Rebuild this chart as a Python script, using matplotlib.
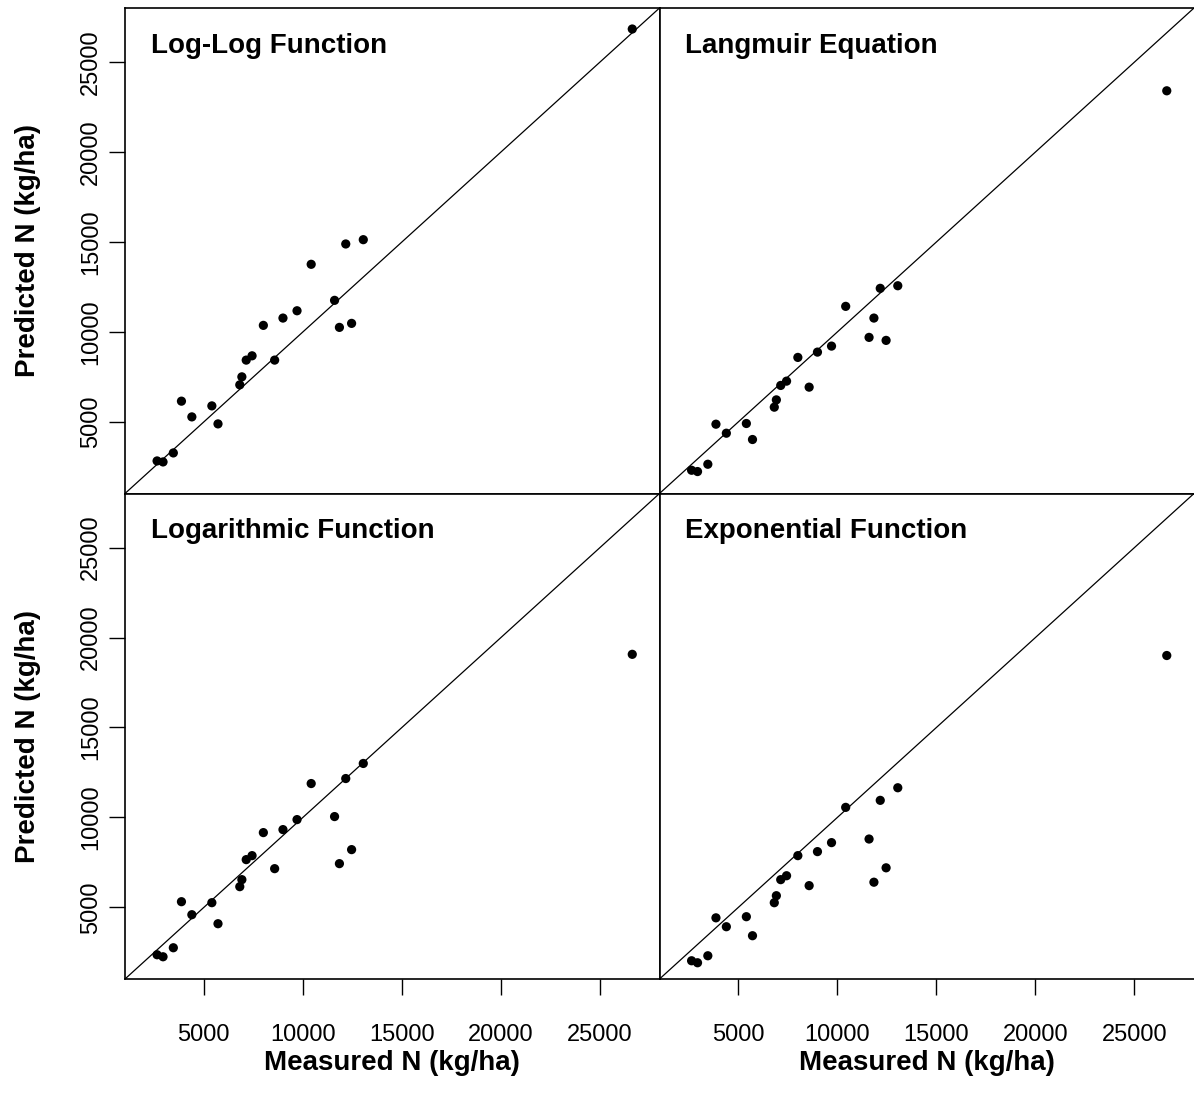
import matplotlib
matplotlib.use("Agg")
import matplotlib.pyplot as plt

plt.rcParams['font.family'] = ['Liberation Sans', 'DejaVu Sans']

# Measured soil N (kg/ha), shared by all four models
measured = [2640, 2940, 3460, 3870, 4395, 5405, 5715, 6815, 6920, 7140, 7435,
            8005, 8575, 8995, 9705, 10420, 11600, 11845, 12165, 12460, 13050, 26630]

# Predicted N (kg/ha) for each fitted model
pred_loglog = [2830, 2774, 3275, 6152, 5278, 5890, 4889, 7059, 7504, 8434, 8673,
               10365, 8434, 10771, 11177, 13759, 11756, 10253, 14889, 10476, 15128, 26837]
pred_langmuir = [2312, 2240, 2646, 4872, 4371, 4911, 4021, 5818, 6224, 7026, 7265,
                 8584, 6931, 8879, 9213, 11422, 9697, 10771, 12424, 9530, 12568, 23403]
pred_logarithmic = [2368, 2256, 2757, 5317, 4594, 5262, 4093, 6152, 6542, 7655, 7877,
                    9157, 7153, 9324, 9880, 11884, 10048, 7432, 12162, 8211, 13000, 19066]
pred_exponential = [2034, 1923, 2312, 4420, 3926, 4483, 3426, 5260, 5650, 6542, 6760,
                    7877, 6210, 8100, 8600, 10560, 8800, 6400, 10950, 7200, 11650, 19000]

panel_titles = ["Log-Log Function", "Langmuir Equation",
                "Logarithmic Function", "Exponential Function"]
panel_values = [pred_loglog, pred_langmuir, pred_logarithmic, pred_exponential]
tick_values = [5000, 10000, 15000, 20000, 25000]
axis_lim = (1020, 28005)

W, H = 1194, 1099
fig = plt.figure(figsize=(W / 100, H / 100), dpi=100)

left_px, panel_w = 125, 534.5
top_px, panel_h = 8, 485.5


def fx(px):
    return px / W


def fy(py):
    return 1 - py / H


for i in range(4):
    r, c = divmod(i, 2)
    x0 = left_px + c * panel_w
    y0 = top_px + r * panel_h
    ax = fig.add_axes([fx(x0), fy(y0 + panel_h), panel_w / W, panel_h / H])
    ax.set_xlim(axis_lim)
    ax.set_ylim(axis_lim)
    ax.plot(axis_lim, axis_lim, color='black', lw=0.9, zorder=1)
    ax.scatter(measured, panel_values[i], s=44, color='black', edgecolors='none', zorder=2)
    fig.text(fx(x0 + 25.7), fy(y0 + 45), panel_titles[i], fontsize=20,
             fontweight='bold', ha='left', va='baseline')
    for sp in ax.spines.values():
        sp.set_linewidth(1.2)
    if c == 1:
        ax.spines['right'].set_visible(False)
    ax.set_xticks(tick_values)
    ax.set_yticks(tick_values)
    ax.tick_params(direction='out', length=11.5, width=1.0, labelsize=17)
    ax.tick_params(axis='x', pad=21)
    ax.tick_params(axis='y', pad=5)
    if r == 0:
        ax.tick_params(axis='x', bottom=False, labelbottom=False)
    else:
        fig.text(fx(x0 + panel_w / 2), fy(1070), "Measured N (kg/ha)", fontsize=20,
                 fontweight='bold', ha='center', va='baseline')
    if c == 1:
        ax.tick_params(axis='y', left=False, labelleft=False)
    else:
        fig.text(fx(35), fy(y0 + panel_h / 2), "Predicted N (kg/ha)", fontsize=20,
                 fontweight='bold', ha='center', va='baseline', rotation=90,
                 rotation_mode='anchor')
        for lab in ax.get_yticklabels():
            lab.set_rotation(90)
            lab.set_va('center')

fig.savefig("out.png", dpi=100)
